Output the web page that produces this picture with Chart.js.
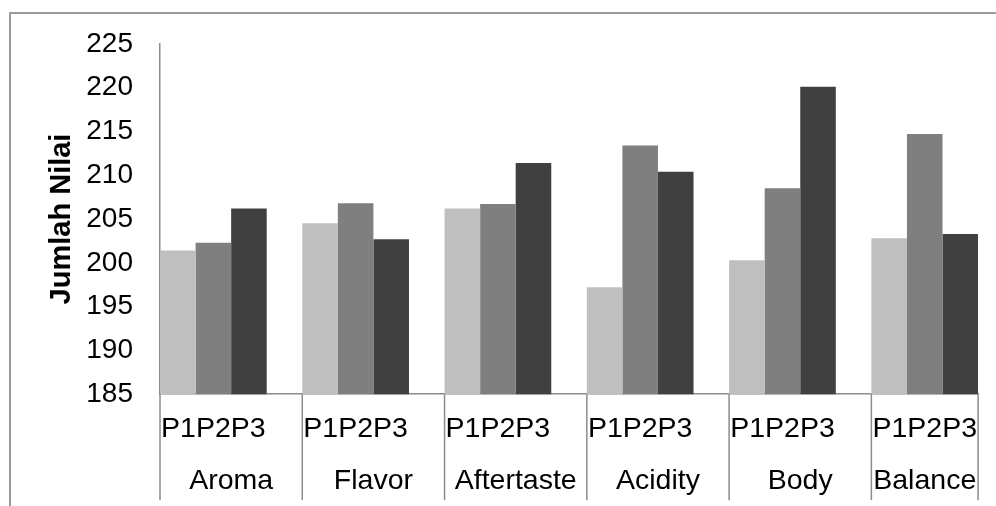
<!DOCTYPE html>
<html>
<head>
<meta charset="utf-8">
<script src="https://cdn.jsdelivr.net/npm/chart.js@4.4.1/dist/chart.umd.min.js"></script>
<style>
  html, body { margin: 0; padding: 0; background: #fff; overflow: hidden; width: 996px; height: 506px; }
  #frame { position: absolute; left: 9px; top: 12px; width: 1100px; height: 600px;
           border-left: 2px solid #9a9a9a; border-top: 2px solid #9a9a9a; }
  #wrap { position: absolute; left: 0; top: 0; width: 996px; height: 506px; }
</style>
</head>
<body>
<div id="frame"></div>
<div id="wrap"><canvas id="c"></canvas></div>
<script>
// ---- data ----
const categories = ['Aroma', 'Flavor', 'Aftertaste', 'Acidity', 'Body', 'Balance'];
const seriesNames = ['P1', 'P2', 'P3'];
const p1Values = [201.4, 204.5, 206.2, 197.2, 200.3, 202.8];
const p2Values = [202.3, 206.8, 206.7, 213.4, 208.5, 214.7];
const p3Values = [206.2, 202.7, 211.4, 210.4, 220.1, 203.3];
const yMin = 185;
const yMax = 225;
const yStep = 5;
const yTitle = 'Jumlah Nilai';

// ---- layout helpers (derived) ----
const FONT = "'Liberation Sans', Arial, Helvetica, sans-serif";
const AXIS_COLOR = '#8c8c8c';
const bandShare = 0.75;            // share of each category slot occupied by the bar group
const half = bandShare / 2;
const n = categories.length;
const boundaries = categories.map((_, i) => i - half).concat([n - 1 + half]);
const slotCenters = boundaries.slice(0, -1).map((b, i) => (b + boundaries[i + 1]) / 2);

const seriesValues = [p1Values, p2Values, p3Values];
const seriesColors = ['#bfbfbf', '#7f7f7f', '#404040'];

const datasets = seriesNames.map((name, s) => ({
  label: name,
  data: seriesValues[s].map((v, i) => ({ x: i, y: v })),
  backgroundColor: seriesColors[s],
  borderWidth: 0,
  categoryPercentage: bandShare,
  barPercentage: 1
}));

const separators = {
  id: 'groupSeparators',
  afterDraw(chart) {
    const { ctx, chartArea, scales } = chart;
    const x = scales.x;
    ctx.save();
    ctx.strokeStyle = AXIS_COLOR;
    ctx.lineWidth = 1.5;
    boundaries.forEach(b => {
      const px = x.getPixelForValue(b);
      ctx.beginPath();
      ctx.moveTo(px, chartArea.bottom);
      ctx.lineTo(px, chartArea.bottom + 106);
      ctx.stroke();
    });
    ctx.restore();
  }
};

new Chart(document.getElementById('c'), {
  type: 'bar',
  data: { datasets },
  plugins: [separators],
  options: {
    responsive: true,
    maintainAspectRatio: false,
    animation: false,
    devicePixelRatio: 1,
    layout: { padding: { left: 20, right: 15, top: 43, bottom: 8 } },
    plugins: { legend: { display: false }, tooltip: { enabled: false } },
    scales: {
      x: {
        type: 'linear',
        position: 'bottom',
        weight: 0,
        min: -half,
        max: n - 1 + half,
        offset: false,
        grid: { display: false, drawTicks: false },
        border: { display: true, color: AXIS_COLOR, width: 1.5 },
        afterBuildTicks(scale) { scale.ticks = categories.map((_, i) => ({ value: i })); },
        ticks: {
          autoSkip: false, maxRotation: 0, minRotation: 0,
          padding: 18,
          color: '#000',
          font: { family: FONT, size: 28.5, lineHeight: 1.2 },
          callback: () => seriesNames.join('')
        }
      },
      x2: {
        type: 'linear',
        position: 'bottom',
        weight: 1,
        min: -half,
        max: n - 1 + half,
        offset: false,
        grid: { display: false, drawTicks: false },
        border: { display: false },
        afterBuildTicks(scale) { scale.ticks = slotCenters.map(v => ({ value: v })); },
        ticks: {
          autoSkip: false, maxRotation: 0, minRotation: 0,
          padding: 0,
          color: '#000',
          font: { family: FONT, size: 28.5, lineHeight: 1.18 },
          callback: (v, i) => categories[i]
        }
      },
      y: {
        type: 'linear',
        min: yMin,
        max: yMax,
        grid: { display: false, drawTicks: false },
        border: { display: true, color: AXIS_COLOR, width: 1.5 },
        ticks: {
          stepSize: yStep,
          padding: 27,
          color: '#000',
          font: { family: FONT, size: 28 }
        },
        title: {
          display: true,
          text: yTitle,
          color: '#000',
          font: { family: FONT, size: 29, weight: 'bold' },
          padding: { top: 25, bottom: 0 }
        },
        afterFit(scale) { scale.width = 140; }
      }
    }
  }
});
</script>
</body>
</html>
